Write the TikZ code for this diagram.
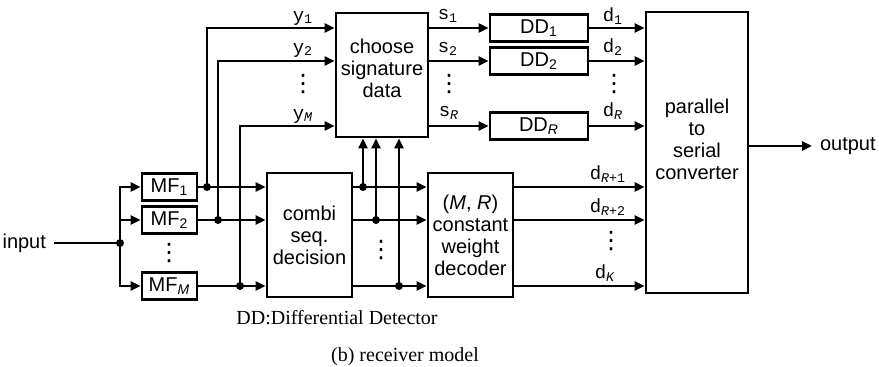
\documentclass[tikz,border=0pt]{standalone}
\usepackage{fontspec}
\setmainfont{Liberation Sans}
\setmonofont{Liberation Mono}
\newfontfamily\capfont{Liberation Serif}
\newfontfamily\symfont{DejaVu Sans}
\usetikzlibrary{arrows.meta,positioning,calc}

\begin{document}
\begin{tikzpicture}[
    >={Triangle[length=5pt,width=4.5pt]},
    x=0.5pt, y=-0.5pt,
    line width=1.4pt,
    every node/.style={font=\fontsize{10}{11}\selectfont},
    block/.style={draw,align=center,inner sep=1pt},
    mfbox/.style={block,minimum width=27.5pt,minimum height=13.5pt},
    ddbox/.style={block,minimum width=49pt,minimum height=13.5pt},
    big/.style={block,minimum width=42.5pt,minimum height=62pt},
    sig/.style={font=\fontsize{9.5}{9.5}\ttfamily,inner sep=0pt},
    vdot/.style={inner sep=0pt,font=\fontsize{12}{12}\symfont},
    caption/.style={font=\fontsize{10}{11}\capfont},
  ]
  \useasboundingbox (0,0) rectangle (879,367);

  % --- input and matched filters ---
  \node (in) [anchor=east] at (54,243) {input};
  \coordinate (jin) at (120,243);
  \node[mfbox] (mf1) at (169.5,187) {MF\textsubscript{1}};
  \node[mfbox] (mf2) at (169.5,220) {MF\textsubscript{2}};
  \node[mfbox] (mfm) at (169.5,286) {MF\textsubscript{\itshape M}};
  \node[vdot]  (mfd) at (169,253) {⋮};

  % --- main blocks ---
  \node[big] (combi) at (309.5,235) {combi\\seq.\\decision};
  \node[big] (dec)   at (470.5,235) {(\textit{M}, \textit{R})\\constant\\weight\\decoder};
  \node[block,minimum width=46pt,minimum height=62pt] (choose) at (382,75)
       {choose\\signature\\data\\[-4pt]};
  \node[ddbox] (dd1) at (539,28)  {DD\textsubscript{1}};
  \node[ddbox] (dd2) at (539,61)  {DD\textsubscript{2}};
  \node[ddbox] (ddr) at (539,126) {DD\textsubscript{\itshape R}};
  \node[block,minimum width=51pt,minimum height=140.5pt,
        label={[align=center,yshift=6.5pt]center:parallel\\to\\serial\\converter}]
       (conv) at (697,152.5) {};
  \node (out) [anchor=west] at (812,146) {output};

  % --- branch points ---
  \coordinate (j1) at (207,187);
  \coordinate (j2) at (218,220);
  \coordinate (jm) at (240,286);
  \coordinate (k1) at (363,187);
  \coordinate (k2) at (376,220);
  \coordinate (km) at (399,286);

  % --- connections ---
  \draw (in) -- (jin);
  \draw[->] (jin) |- (mf1);
  \draw[->] (jin) |- (mf2);
  \draw[->] (jin) |- (mfm);
  \draw[->] (mf1) -- (mf1 -| combi.west);
  \draw[->] (mf2) -- (mf2 -| combi.west);
  \draw[->] (mfm) -- (mfm -| combi.west);
  \draw[->] (j1) |- (dd1 -| choose.west);
  \draw[->] (j2) |- (dd2 -| choose.west);
  \draw[->] (jm) |- (ddr -| choose.west);
  \draw[->] (combi.east |- k1) -- (k1 -| dec.west);
  \draw[->] (combi.east |- k2) -- (k2 -| dec.west);
  \draw[->] (combi.east |- km) -- (km -| dec.west);
  \draw[->] (k1) -- (k1 |- choose.south);
  \draw[->] (k2) -- (k2 |- choose.south);
  \draw[->] (km) -- (km |- choose.south);
  \draw[->] (choose.east |- dd1) -- (dd1);
  \draw[->] (choose.east |- dd2) -- (dd2);
  \draw[->] (choose.east |- ddr) -- (ddr);
  \draw[->] (dd1) -- (dd1 -| conv.west);
  \draw[->] (dd2) -- (dd2 -| conv.west);
  \draw[->] (ddr) -- (ddr -| conv.west);
  \draw[->] (dec.east |- k1) -- (k1 -| conv.west);
  \draw[->] (dec.east |- k2) -- (k2 -| conv.west);
  \draw[->] (dec.east |- km) -- (km -| conv.west);
  \draw[->] (conv.east |- out) -- (out);
  \foreach \p in {jin,j1,j2,jm,k1,k2,km}
    \fill (\p) circle[radius=2pt];

  % --- signal labels ---
  \node[sig] (y1) at (303,18)  {y\textsubscript{1}};
  \node[sig] (y2) at (303,50)  {y\textsubscript{2}};
  \node[vdot] (yd) at (303,84) {⋮};
  \node[sig] (ym) at (303,116) {y\textsubscript{\itshape M}};
  \node[sig] (s1) at (448,16)  {s\textsubscript{1}};
  \node[sig] (s2) at (448,49)  {s\textsubscript{2}};
  \node[vdot] (sd) at (449,84) {⋮};
  \node[sig] (sr) at (449,113) {s\textsubscript{\itshape R}};
  \node[sig] (d1) at (613,16)  {d\textsubscript{1}};
  \node[sig] (d2) at (613,47)  {d\textsubscript{2}};
  \node[vdot] (dd) at (614,84) {⋮};
  \node[sig] (dr) at (613,111) {d\textsubscript{\itshape R}};
  \node[sig] (dr1) at (608,174) {d\textsubscript{\itshape R\upshape +1}};
  \node[sig] (dr2) at (608,207) {d\textsubscript{\itshape R\upshape +2}};
  \node[vdot] (dkd) at (611,241) {⋮};
  \node[sig] (dk) at (605,273) {d\textsubscript{\itshape K}};
  \node[vdot] (cd) at (381,250) {⋮};

  % --- captions ---
  \node[caption] (cap1) at (337,318) {DD:Differential Detector};
  \node[caption] (cap2) at (405,357) {(b) receiver model};

\end{tikzpicture}
\end{document}
